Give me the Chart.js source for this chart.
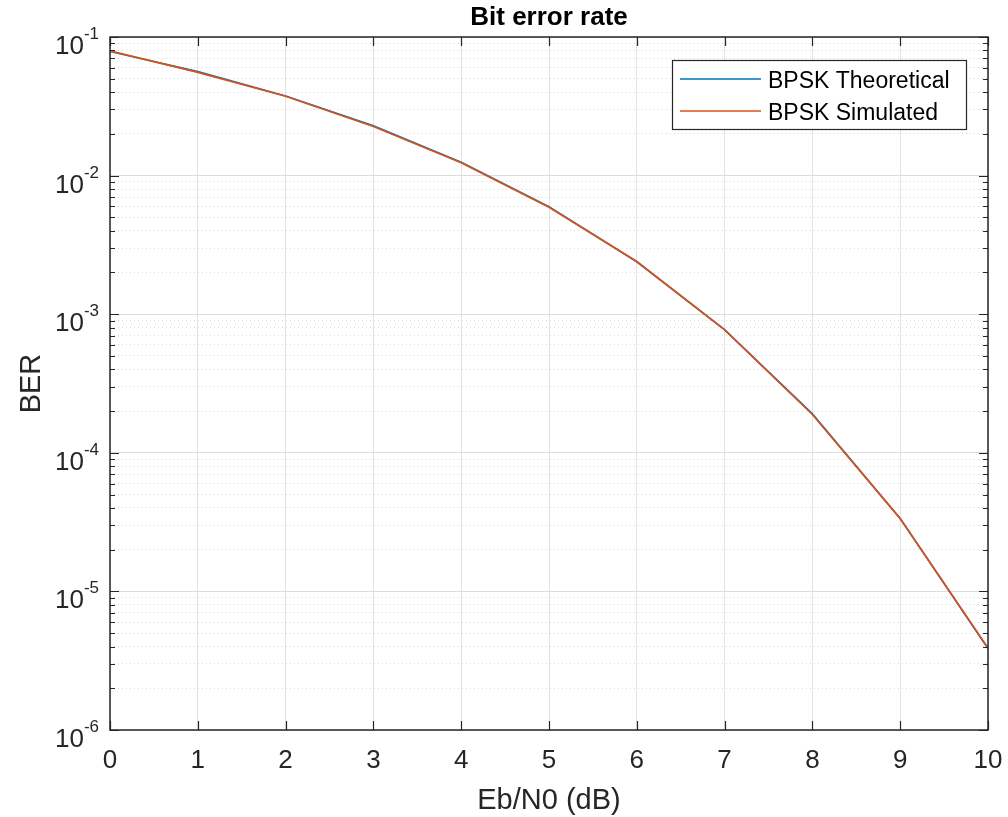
<!DOCTYPE html>
<html>
<head>
<meta charset="utf-8">
<title>Bit error rate</title>
<script src="https://cdn.jsdelivr.net/npm/chart.js@4.4.0/dist/chart.umd.min.js"></script>
<style>
  html, body { margin: 0; padding: 0; background: #fff; }
  #wrap { width: 1008px; height: 817px; }
</style>
</head>
<body>
<div id="wrap"><canvas id="berChart" width="1008" height="817"></canvas></div>
<script>
// Data
const ebN0 = [0, 1, 2, 3, 4, 5, 6, 7, 8, 9, 10];
const berTheory = [0.0786, 0.0563, 0.0375, 0.0229, 0.0125, 0.00595, 0.00239, 0.000773, 0.000191, 3.36e-5, 3.87e-6];
const berSim = [0.0795, 0.0555, 0.0374, 0.0226, 0.0124, 0.00590, 0.00240, 0.000770, 0.000189, 3.35e-5, 3.90e-6];
const xTicks = [0, 1, 2, 3, 4, 5, 6, 7, 8, 9, 10];
const yExponents = [-6, -5, -4, -3, -2, -1];
const seriesNames = ['BPSK Theoretical', 'BPSK Simulated'];

const yMajor = yExponents.map(e => Math.pow(10, e));
const yMinor = [];
yExponents.slice(0, -1).forEach(e => {
    for (let m = 2; m <= 9; m++) yMinor.push(m * Math.pow(10, e));
});

const blue = '#0072BD';
const orange = '#D95319';
const axisColor = '#262626';
const font = '"Liberation Sans", Arial, Helvetica, sans-serif';

// draws the MATLAB-like box, inward ticks, labels, title and legend
const matlabAxes = {
    id: 'matlabAxes',
    afterDraw(chart) {
        const ctx = chart.ctx;
        const area = chart.chartArea;
        const xs = chart.scales.x;
        const ys = chart.scales.y;
        ctx.save();

        // ticks
        ctx.strokeStyle = axisColor;
        ctx.lineWidth = 1.2;
        ctx.beginPath();
        xTicks.forEach(v => {
            const px = Math.round(xs.getPixelForValue(v)) + 0.5;
            ctx.moveTo(px, area.bottom); ctx.lineTo(px, area.bottom - 9);
            ctx.moveTo(px, area.top); ctx.lineTo(px, area.top + 9);
        });
        yMajor.forEach(v => {
            const py = Math.round(ys.getPixelForValue(v)) + 0.5;
            ctx.moveTo(area.left, py); ctx.lineTo(area.left + 9, py);
            ctx.moveTo(area.right, py); ctx.lineTo(area.right - 9, py);
        });
        yMinor.forEach(v => {
            const py = Math.round(ys.getPixelForValue(v)) + 0.5;
            ctx.moveTo(area.left, py); ctx.lineTo(area.left + 5, py);
            ctx.moveTo(area.right, py); ctx.lineTo(area.right - 5, py);
        });
        ctx.stroke();

        // box
        ctx.lineWidth = 1.5;
        ctx.strokeRect(area.left, area.top, area.right - area.left, area.bottom - area.top);

        // x tick labels
        ctx.fillStyle = axisColor;
        ctx.font = '26px ' + font;
        ctx.textAlign = 'center';
        ctx.textBaseline = 'alphabetic';
        xTicks.forEach(v => {
            ctx.fillText(String(v), xs.getPixelForValue(v), area.bottom + 38);
        });

        // y tick labels 10^n
        yExponents.forEach(e => {
            const py = ys.getPixelForValue(Math.pow(10, e));
            const sup = String(e);
            ctx.font = '17px ' + font;
            const supW = ctx.measureText(sup).width;
            const right = area.left - 11;
            ctx.textAlign = 'left';
            ctx.fillText(sup, right - supW, py + 2);
            ctx.font = '26px ' + font;
            ctx.textAlign = 'right';
            ctx.fillText('10', right - supW, py + 17);
        });

        // axis titles
        ctx.font = '29px ' + font;
        ctx.textAlign = 'center';
        ctx.fillText('Eb/N0 (dB)', (area.left + area.right) / 2, 809);
        ctx.save();
        ctx.translate(40, (area.top + area.bottom) / 2);
        ctx.rotate(-Math.PI / 2);
        ctx.fillText('BER', 0, 0);
        ctx.restore();

        // title
        ctx.fillStyle = '#000';
        ctx.font = 'bold 26px ' + font;
        ctx.fillText('Bit error rate', (area.left + area.right) / 2, 25);

        // legend
        const lx = 672, ly = 60, lw = 294, lh = 69;
        ctx.fillStyle = '#fff';
        ctx.fillRect(lx, ly, lw, lh);
        ctx.strokeStyle = axisColor;
        ctx.lineWidth = 1.2;
        ctx.strokeRect(lx + 0.5, ly + 0.5, lw, lh);
        [blue, orange].forEach((c, i) => {
            const yy = 79 + i * 32;
            ctx.strokeStyle = c;
            ctx.lineWidth = 1.6;
            ctx.beginPath();
            ctx.moveTo(680, yy); ctx.lineTo(761, yy);
            ctx.stroke();
            ctx.fillStyle = '#000';
            ctx.font = '23px ' + font;
            ctx.textAlign = 'left';
            ctx.fillText(seriesNames[i], 768, yy + 9);
        });
        ctx.restore();
    }
};

const ctx = document.getElementById('berChart').getContext('2d');
new Chart(ctx, {
    type: 'line',
    data: {
        datasets: [
            {
                label: seriesNames[0],
                data: ebN0.map((x, i) => ({ x: x, y: berTheory[i] })),
                borderColor: blue,
                borderWidth: 1.7,
                pointRadius: 0,
                tension: 0,
                order: 2
            },
            {
                label: seriesNames[1],
                data: ebN0.map((x, i) => ({ x: x, y: berSim[i] })),
                borderColor: orange,
                borderWidth: 1.7,
                pointRadius: 0,
                tension: 0,
                order: 1
            }
        ]
    },
    options: {
        responsive: false,
        animation: false,
        layout: { padding: { left: 110, right: 20, top: 37, bottom: 87 } },
        plugins: {
            legend: { display: false },
            title: { display: false },
            tooltip: { enabled: false }
        },
        scales: {
            x: {
                type: 'linear',
                min: 0,
                max: 10,
                ticks: { display: false, stepSize: 1 },
                grid: { color: '#e2e2e2', lineWidth: 1, drawTicks: false },
                border: { display: false }
            },
            yMinor: {
                type: 'logarithmic',
                position: 'left',
                min: 1e-6,
                max: 1e-1,
                afterBuildTicks: scale => { scale.ticks = yMinor.map(v => ({ value: v })); },
                ticks: { display: false },
                grid: { color: '#dadada', lineWidth: 1, drawTicks: false },
                border: { display: false, dash: [1, 3] }
            },
            y: {
                type: 'logarithmic',
                position: 'left',
                min: 1e-6,
                max: 1e-1,
                afterBuildTicks: scale => { scale.ticks = yMajor.map(v => ({ value: v, major: true })); },
                ticks: { display: false },
                grid: { color: '#dcdcdc', lineWidth: 1, drawTicks: false },
                border: { display: false }
            }
        }
    },
    plugins: [matlabAxes]
});
</script>
</body>
</html>
